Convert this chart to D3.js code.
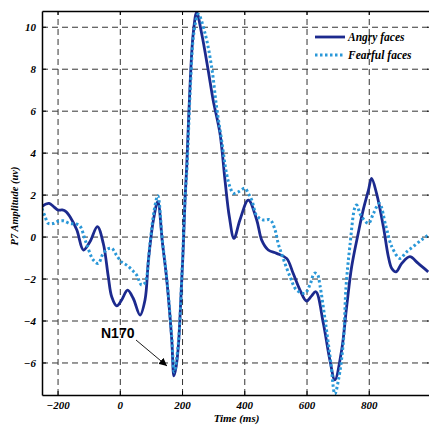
<!DOCTYPE html>
<html>
<head>
<meta charset="utf-8">
<script src="https://cdn.jsdelivr.net/npm/d3@7"></script>
<style>
  body { margin: 0; background: #fff; }
  svg { display: block; }
</style>
</head>
<body>
<svg width="429" height="425"></svg>
<script>
// time axis (ms) and amplitude values
var angryTime = [-250, -237, -227, -212, -198, -185, -172, -160, -138, -117, -96, -72, -53, -37, -26, -10, 6, 25, 43, 65, 81, 92, 108, 122, 137, 151, 167, 174, 181, 188, 199, 204, 210, 215, 226, 236, 247, 263, 284, 300, 322, 338, 352, 367, 386, 413, 440, 456, 477, 504, 536, 557, 579, 600, 615, 630, 654, 675, 691, 713, 729, 745, 766, 782, 799, 809, 825, 847, 863, 874, 888, 906, 932, 959, 991];
var angryAmp = [1.42, 1.55, 1.58, 1.42, 1.26, 1.27, 1.18, 0.94, 0.31, -0.64, -0.25, 0.47, -0.33, -1.91, -2.87, -3.3, -3.02, -2.55, -2.94, -3.74, -3.02, -1.12, 0.79, 1.66, -0.3, -2.07, -4.93, -6.64, -6.2, -5.25, -2.07, -0.49, 1.9, 3.32, 7.3, 9.68, 10.68, 9.68, 7.93, 6.5, 4.91, 2.69, 0.94, -0.09, 0.79, 1.74, 0.79, -0.17, -0.64, -0.8, -1.04, -1.75, -2.55, -3.07, -2.85, -2.63, -4.13, -5.88, -6.83, -5.4, -3.34, -1.44, 0.15, 1.26, 2.21, 2.77, 2.06, 0.47, -0.96, -1.52, -1.68, -1.28, -0.96, -1.28, -1.68];

var fearfulTime = [-250, -240, -230, -215, -200, -181, -160, -140, -128, -108, -85, -69, -55, -40, -26, -10, 5, 22, 40, 54, 70, 81, 97, 110, 122, 137, 151, 167, 175, 188, 199, 210, 216, 227, 238, 252, 274, 295, 311, 327, 343, 354, 365, 381, 402, 413, 424, 440, 461, 483, 499, 509, 525, 547, 568, 595, 611, 625, 635, 643, 660, 678, 691, 703, 718, 727, 739, 756, 761, 775, 799, 815, 834, 855, 874, 900, 920, 945, 970, 989];
var fearfulAmp = [1.34, 0.95, 0.63, 0.62, 0.72, 0.75, 0.62, 0.6, 0.5, -0.3, -1.12, -1.28, -0.85, -0.6, -0.56, -0.9, -1.2, -1.36, -1.6, -1.83, -2.31, -2.2, -0.33, 1.2, 1.95, -0.2, -2.0, -4.8, -6.45, -5.1, -2.0, 1.9, 3.3, 7.2, 9.7, 10.6, 9.68, 8.09, 6.18, 4.6, 3.0, 2.37, 2.06, 2.13, 2.3, 2.06, 1.74, 1.0, 0.79, 0.8, 0.31, -0.33, -1.04, -1.91, -2.55, -2.7, -2.3, -1.75, -1.8, -2.31, -4.0, -6.0, -7.5, -6.8, -5.09, -2.39, -0.5, 1.42, 1.5, 1.0, 0.63, 1.1, 1.58, 0.5, -0.48, -1.04, -0.75, -0.45, -0.15, 0.05];

var seriesNames = ["Angry faces", "Fearful faces"];
var xTicks = [-200, 0, 200, 400, 600, 800];
var yTicks = [-6, -4, -2, 0, 2, 4, 6, 8, 10];

var svg = d3.select("svg"),
  margin = { top: 11, right: -2, bottom: 30, left: 42 },
  width = +svg.attr("width") - margin.left - margin.right,
  height = +svg.attr("height") - margin.top - margin.bottom,
  g = svg.append("g").attr("transform", "translate(" + margin.left + "," + margin.top + ")");

var x = d3.scaleLinear().domain([-250, 1000]).range([0, width]);
var y = d3.scaleLinear().domain([-7.55, 10.75]).range([height, 0]);

var serif = "'Liberation Serif', 'Times New Roman', serif";

svg.append("defs").append("clipPath").attr("id", "clip")
  .append("rect").attr("width", width).attr("height", height);

// dashed grid
g.append("g")
  .attr("transform", "translate(0," + height + ")")
  .call(d3.axisBottom(x).tickValues(xTicks).tickSize(-height).tickFormat(""))
  .call(function(s) {
    s.select(".domain").remove();
    s.selectAll("line").attr("stroke", "#333").attr("stroke-dasharray", "6,4");
  });
g.append("g")
  .call(d3.axisLeft(y).tickValues(yTicks).tickSize(-width).tickFormat(""))
  .call(function(s) {
    s.select(".domain").remove();
    s.selectAll("line").attr("stroke", "#333").attr("stroke-dasharray", "6,4");
  });

// curves
var line = d3.line()
  .x(function(d) { return x(d[0]); })
  .y(function(d) { return y(d[1]); })
  .curve(d3.curveCatmullRom.alpha(0.5));

var angry = angryTime.map(function(t, i) { return [t, angryAmp[i]]; });
var fearful = fearfulTime.map(function(t, i) { return [t, fearfulAmp[i]]; });

var colors = ["#1c2a8e", "#2a98d8"];

g.append("path")
  .datum(angry)
  .attr("clip-path", "url(#clip)")
  .attr("fill", "none")
  .attr("stroke", colors[0])
  .attr("stroke-width", 2.8)
  .attr("d", line);

g.append("path")
  .datum(fearful)
  .attr("clip-path", "url(#clip)")
  .attr("fill", "none")
  .attr("stroke", colors[1])
  .attr("stroke-width", 3)
  .attr("stroke-dasharray", "2.5,2.5")
  .attr("d", line);

// axes with inward ticks
function styleAxis(s) {
  s.select(".domain").attr("stroke", "#000").attr("stroke-width", 1.5);
  s.selectAll("line").attr("stroke", "#000");
  s.selectAll("text")
    .attr("font-family", serif)
    .attr("font-size", 11)
    .attr("font-weight", "bold")
    .attr("font-style", "italic")
    .attr("fill", "#000");
}

g.append("g")
  .attr("transform", "translate(0," + height + ")")
  .call(d3.axisBottom(x).tickValues(xTicks).tickSizeInner(-4).tickSizeOuter(0).tickPadding(6))
  .call(styleAxis);
g.append("g")
  .call(d3.axisTop(x).tickValues(xTicks).tickSizeInner(-4).tickSizeOuter(0).tickFormat(""))
  .call(styleAxis);
g.append("g")
  .call(d3.axisLeft(y).tickValues(yTicks).tickSizeInner(-4).tickSizeOuter(0).tickPadding(6))
  .call(styleAxis);
g.append("g")
  .attr("transform", "translate(" + width + ",0)")
  .call(d3.axisRight(y).tickValues(yTicks).tickSizeInner(-4).tickSizeOuter(0).tickFormat(""))
  .call(styleAxis);

// axis titles
svg.append("text")
  .attr("x", margin.left + x(375))
  .attr("y", 422)
  .attr("text-anchor", "middle")
  .attr("font-family", serif)
  .attr("font-size", 11)
  .attr("font-weight", "bold")
  .attr("font-style", "italic")
  .text("Time (ms)");

svg.append("text")
  .attr("transform", "translate(18," + 206 + ") rotate(-90)")
  .attr("text-anchor", "middle")
  .attr("font-family", serif)
  .attr("font-size", 10.5)
  .attr("font-weight", "bold")
  .attr("font-style", "italic")
  .text("P7 Amplitude (uv)");

// N170 annotation
svg.append("defs").append("marker")
  .attr("id", "arrow")
  .attr("viewBox", "0 0 10 10")
  .attr("refX", 10).attr("refY", 5)
  .attr("markerWidth", 8).attr("markerHeight", 8)
  .attr("markerUnits", "userSpaceOnUse")
  .attr("orient", "auto")
  .append("path").attr("d", "M0,0 L10,5 L0,10 Z").attr("fill", "#000");

svg.append("line")
  .attr("x1", 136).attr("y1", 340)
  .attr("x2", 167).attr("y2", 366)
  .attr("stroke", "#000")
  .attr("stroke-width", 0.9)
  .attr("marker-end", "url(#arrow)");

svg.append("text")
  .attr("x", 101)
  .attr("y", 338)
  .attr("font-family", "'Liberation Sans', Arial, sans-serif")
  .attr("font-size", 14)
  .attr("font-weight", "bold")
  .text("N170");

// legend
var legend = svg.append("g")
  .selectAll("g")
  .data(seriesNames)
  .enter().append("g")
  .attr("transform", function(d, i) { return "translate(315," + (37 + i * 18) + ")"; });

legend.append("line")
  .attr("x1", 0).attr("x2", 30)
  .attr("stroke", function(d, i) { return colors[i]; })
  .attr("stroke-width", function(d, i) { return i ? 3 : 2.8; })
  .attr("stroke-dasharray", function(d, i) { return i ? "2.5,2.5" : null; });

legend.append("text")
  .attr("x", 33)
  .attr("dy", "0.35em")
  .attr("font-family", serif)
  .attr("font-size", 11.5)
  .attr("font-weight", "bold")
  .attr("font-style", "italic")
  .text(function(d) { return d; });
</script>
</body>
</html>
